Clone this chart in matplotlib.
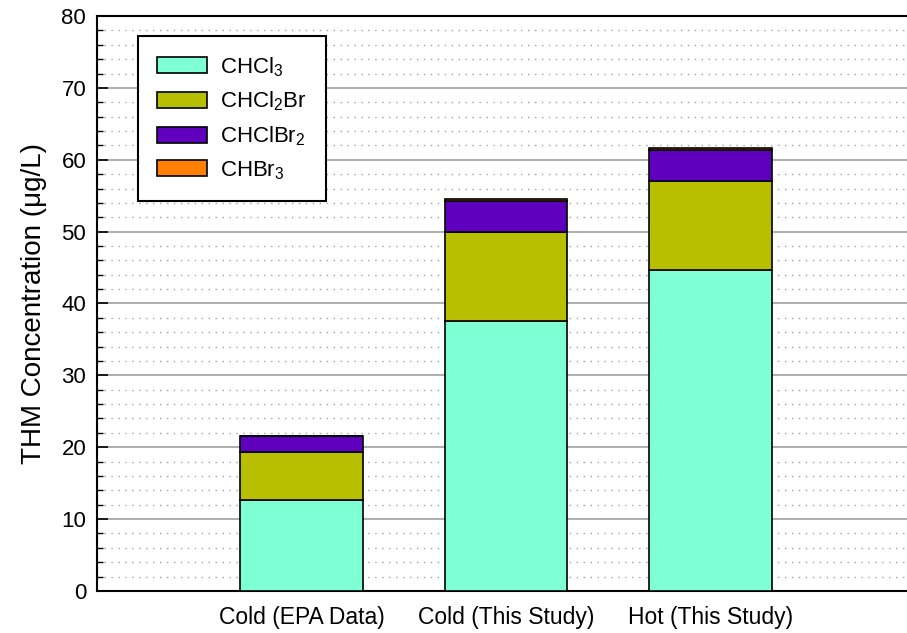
import numpy as np
import matplotlib.pyplot as plt
from matplotlib.ticker import MultipleLocator

plt.rcParams['font.family'] = ['Liberation Sans', 'DejaVu Sans']
plt.rcParams['mathtext.fontset'] = 'custom'
plt.rcParams['mathtext.rm'] = 'Liberation Sans'
plt.rcParams['mathtext.default'] = 'regular'

# THM species per sample (ug/L)
samples = ['Cold (EPA Data)', 'Cold (This Study)', 'Hot (This Study)']
chcl3 = [12.6, 37.6, 44.6]
chcl2br = [6.7, 12.4, 12.4]
chclbr2 = [2.3, 4.2, 4.3]
chbr3 = [0.0, 0.3, 0.3]

species = [r'CHCl$_3$', r'CHCl$_2$Br', r'CHClBr$_2$', r'CHBr$_3$']
colors = ['#7FFFD4', '#B8BE00', '#5E00BE', '#FF8000']

fig = plt.figure(figsize=(9.07, 6.33), dpi=100)
ax = fig.add_axes([0.1073, 0.0664, 0.901, 0.9083])

x = np.arange(1, len(samples) + 1)
bottom = np.zeros(len(samples))
for vals, lab, c in zip([chcl3, chcl2br, chclbr2, chbr3], species, colors):
    ax.bar(x, vals, width=0.6, bottom=bottom, color=c, edgecolor='black',
           linewidth=1.2, label=lab, zorder=3)
    bottom += np.array(vals)

ax.set_xlim(0, 4)
ax.set_ylim(0, 80)
ax.set_xticks(x)
ax.set_xticklabels(samples, fontsize=16.5)
ax.yaxis.set_major_locator(MultipleLocator(10))
ax.yaxis.set_minor_locator(MultipleLocator(2))
ax.tick_params(axis='y', which='major', direction='in', length=8, width=1.2,
               labelsize=16, pad=8)
ax.tick_params(axis='y', which='minor', direction='in', length=4, width=1)
ax.tick_params(axis='x', length=0, pad=11)

ax.grid(axis='y', which='major', color='#a0a0a0', linewidth=1.2, zorder=0)
ax.grid(axis='y', which='minor', color='#a0a0a0', linestyle=(0, (1, 4)),
        linewidth=1, zorder=0)
ax.set_axisbelow(True)

for s in ['left', 'bottom', 'top']:
    ax.spines[s].set_linewidth(1.5)
ax.spines['right'].set_visible(False)

ax.set_ylabel('THM Concentration (\u03bcg/L)', fontsize=20, labelpad=10)

leg = ax.legend(loc='upper left', bbox_to_anchor=(0.05, 0.965), borderaxespad=0,
                fontsize=16, handlelength=2.25, handleheight=0.72,
                labelspacing=0.5, handletextpad=0.6, borderpad=0.85,
                fancybox=False, framealpha=1, edgecolor='black')
leg.get_frame().set_linewidth(1.5)

fig.savefig('out.png', dpi=100)
